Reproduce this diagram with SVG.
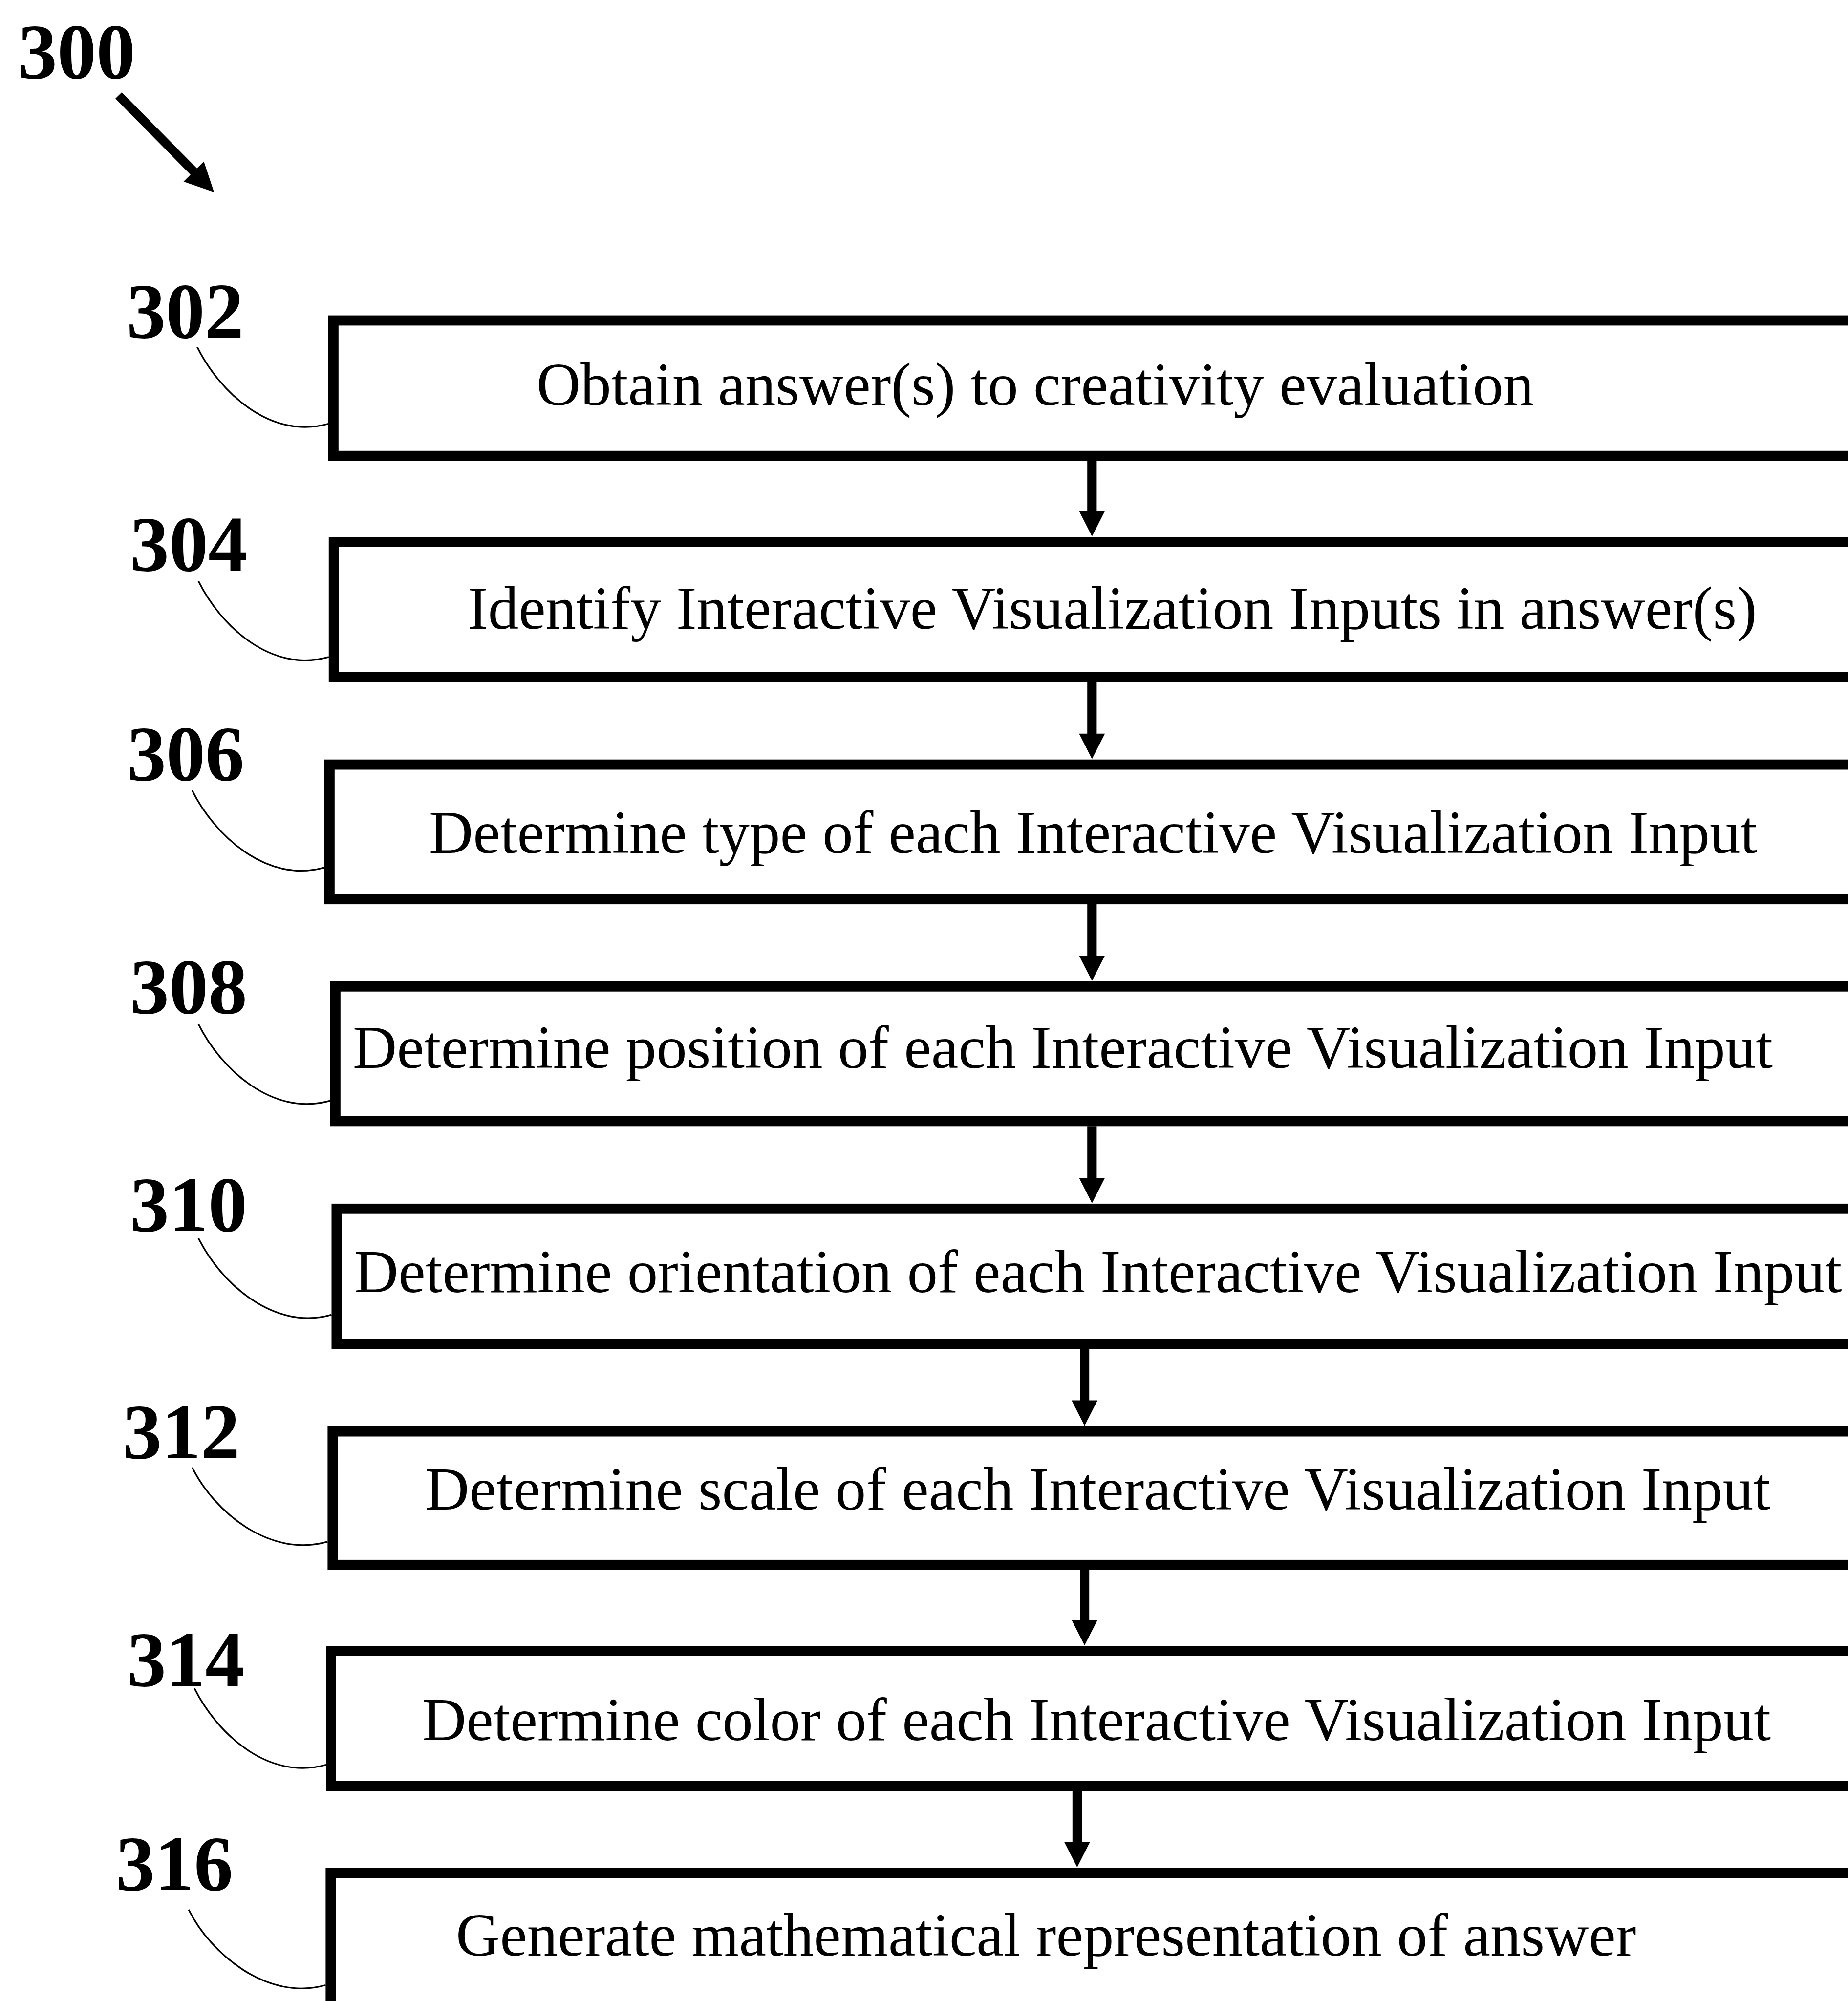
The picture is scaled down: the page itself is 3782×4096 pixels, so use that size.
<svg xmlns="http://www.w3.org/2000/svg" width="3782" height="4096" viewBox="0 0 3782 4096">
  <style>
    .box { fill: #ffffff; stroke: #000000; stroke-width: 20.8; }
    .step { font-family: "Liberation Serif", "Times New Roman", serif; font-size: 125px; fill: #000000; }
    .ref { font-family: "Liberation Serif", "Times New Roman", serif; font-size: 160px; font-weight: bold; fill: #000000; }
    .lead { fill: none; stroke: #000000; stroke-width: 3.3; }
    .flow { stroke: #000000; stroke-width: 19.2; fill: none; marker-end: url(#head); }
    .pointer { stroke: #000000; stroke-width: 18.4; fill: none; marker-end: url(#bighead); }
  </style>
  <defs>
    <marker id="head" markerUnits="userSpaceOnUse" viewBox="0 0 52 53" markerWidth="52" markerHeight="53" refX="2" refY="26.5" orient="auto" overflow="visible">
      <path d="M0,0 L52,26.5 L0,53 Z" fill="#000000"/>
    </marker>
    <marker id="bighead" markerUnits="userSpaceOnUse" viewBox="0 0 59.3 58.5" markerWidth="59.3" markerHeight="58.5" refX="2" refY="29.25" orient="auto" overflow="visible">
      <path d="M0,0 L59.3,29.25 L0,58.5 Z" fill="#000000"/>
    </marker>
  </defs>

  <rect x="0" y="0" width="3782" height="4096" fill="#ffffff"/>

  <!-- figure reference -->
  <g id="fig-300">
    <text class="ref" x="37" y="160">300</text>
    <line class="pointer" x1="242.7" y1="195.4" x2="397.8" y2="352.5"/>
  </g>

  <!-- process steps -->
  <g id="step-302">
    <rect class="box" x="682.4" y="656.0" width="3300" height="277.2"/>
    <text class="step" x="1098" y="829">Obtain answer(s) to creativity evaluation</text>
    <text class="ref" x="259" y="691">302</text>
    <path class="lead" d="M403.7,710.5 C448.6,801.0 552.7,901.1 672.0,867.5"/>
  </g>

  <g id="step-304">
    <rect class="box" x="683.2" y="1109.4" width="3300" height="276.4"/>
    <text class="step" x="957" y="1287">Identify Interactive Visualization Inputs in answer(s)</text>
    <text class="ref" x="266" y="1168">304</text>
    <path class="lead" d="M406.1,1189.5 C451.0,1280.0 553.5,1378.5 672.8,1344.9"/>
  </g>

  <g id="step-306">
    <rect class="box" x="674.4" y="1565.1" width="3300" height="275.6"/>
    <text class="step" x="878" y="1746">Determine type of each Interactive Visualization Input</text>
    <text class="ref" x="260" y="1597">306</text>
    <path class="lead" d="M393.3,1618.0 C438.2,1708.5 544.7,1809.4 664.0,1775.8"/>
  </g>

  <g id="step-308">
    <rect class="box" x="686.4" y="2019.3" width="3300" height="275.6"/>
    <text class="step" x="722" y="2186">Determine position of each Interactive Visualization Input</text>
    <text class="ref" x="266" y="2074">308</text>
    <path class="lead" d="M406.1,2096.2 C451.0,2186.7 556.7,2286.8 676.0,2253.2"/>
  </g>

  <g id="step-310">
    <rect class="box" x="688.9" y="2474.3" width="3300" height="276.4"/>
    <text class="step" x="725" y="2645">Determine orientation of each Interactive Visualization Input</text>
    <text class="ref" x="266" y="2520">310</text>
    <path class="lead" d="M406.1,2534.4 C451.0,2624.9 559.1,2725.0 678.4,2691.4"/>
  </g>

  <g id="step-312">
    <rect class="box" x="680.8" y="2930.1" width="3300" height="273.2"/>
    <text class="step" x="870" y="3090">Determine scale of each Interactive Visualization Input</text>
    <text class="ref" x="251" y="2985">312</text>
    <path class="lead" d="M393.3,3003.8 C438.2,3094.3 551.1,3189.5 670.4,3155.9"/>
  </g>

  <g id="step-314">
    <rect class="box" x="677.6" y="3379.4" width="3300" height="276.4"/>
    <text class="step" x="864" y="3562">Determine color of each Interactive Visualization Input</text>
    <text class="ref" x="260" y="3451">314</text>
    <path class="lead" d="M398.1,3456.3 C443.0,3546.8 547.9,3646.1 667.2,3612.5"/>
  </g>

  <g id="step-316">
    <rect class="box" x="676.8" y="3833.6" width="3300" height="400"/>
    <text class="step" x="933" y="4003">Generate mathematical representation of answer</text>
    <text class="ref" x="237" y="3869">316</text>
    <path class="lead" d="M386.1,3908.9 C431.0,3999.4 547.1,4097.1 666.4,4063.5"/>
  </g>

  <!-- flow arrows between steps -->
  <g id="connectors">
    <line class="flow" x1="2234.8" y1="943.6" x2="2234.8" y2="1048"/>
    <line class="flow" x1="2234.8" y1="1396.1" x2="2234.8" y2="1503.7"/>
    <line class="flow" x1="2234.8" y1="1851.1" x2="2234.8" y2="1957.9"/>
    <line class="flow" x1="2234.8" y1="2305.3" x2="2234.8" y2="2412.9"/>
    <line class="flow" x1="2219.6" y1="2761.1" x2="2219.6" y2="2868.6"/>
    <line class="flow" x1="2219.6" y1="3213.6" x2="2219.6" y2="3318"/>
    <line class="flow" x1="2204.4" y1="3666.2" x2="2204.4" y2="3772.2"/>
  </g>
</svg>
